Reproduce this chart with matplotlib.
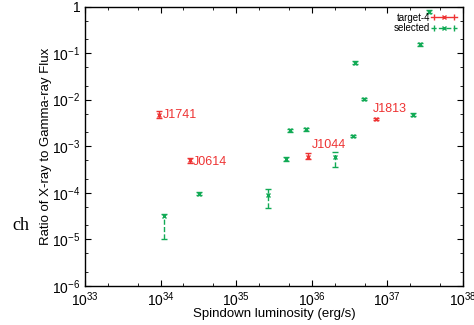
import math
import matplotlib.pyplot as plt
from matplotlib.lines import Line2D
from matplotlib.legend_handler import HandlerLine2D, HandlerTuple
from matplotlib.ticker import LogLocator, FuncFormatter

plt.rcParams['font.family'] = ['Liberation Sans', 'DejaVu Sans']
plt.rcParams['mathtext.fontset'] = 'custom'
plt.rcParams['mathtext.rm'] = 'Liberation Sans'
plt.rcParams['mathtext.it'] = 'Liberation Sans'

# target-4 pulsars
t_names = ["J1741", "J0614", "J1044", "J1813"]
t_lum = [9.6e33, 2.45e34, 8.9e35, 7.1e36]
t_ratio = [4.7e-3, 5.0e-4, 6.0e-4, 3.8e-3]
t_lo = [4.0e-3, 4.4e-4, 5.2e-4, 3.6e-3]
t_hi = [5.6e-3, 5.7e-4, 7.0e-4, 4.0e-3]

# selected pulsars
s_lum = [1.1e34, 3.2e34, 2.6e35, 4.5e35, 5.1e35, 8.3e35, 2.0e36, 3.5e36,
         3.7e36, 4.9e36, 2.2e37, 2.7e37, 3.5e37]
s_ratio = [3.2e-5, 9.6e-5, 9.0e-5, 5.3e-4, 2.2e-3, 2.3e-3, 6.0e-4, 1.66e-3,
           6.2e-2, 1.03e-2, 4.8e-3, 0.155, 0.78]
s_lo = [1.0e-5, 9.0e-5, 4.7e-5, 4.8e-4, 2.0e-3, 2.1e-3, 3.6e-4, 1.55e-3,
        5.8e-2, 9.6e-3, 4.5e-3, 0.145, 0.72]
s_hi = [3.5e-5, 1.05e-4, 1.2e-4, 5.9e-4, 2.4e-3, 2.5e-3, 7.6e-4, 1.78e-3,
        6.6e-2, 1.1e-2, 5.1e-3, 0.165, 0.84]

# label offsets in pixels
t_offsets = [(4, 0), (3, -2), (4, 12), (-3, 10)]

red = "#ee3333"
green = "#11aa55"

fig = plt.figure(figsize=(4.74, 3.25), dpi=100)
ax = fig.add_axes([85 / 474, 1 - 286 / 325, 378 / 474, 279.5 / 325])

t_err = [[r - l for r, l in zip(t_ratio, t_lo)], [h - r for r, h in zip(t_ratio, t_hi)]]
s_err = [[r - l for r, l in zip(s_ratio, s_lo)], [h - r for r, h in zip(s_ratio, s_hi)]]

ax.errorbar(t_lum, t_ratio, yerr=t_err, fmt="x", color=red, ms=3, mew=1,
            elinewidth=1, capsize=2)
eb = ax.errorbar(s_lum, s_ratio, yerr=s_err, fmt="x", color=green, ms=3, mew=1,
                 elinewidth=1, capsize=2)
eb[2][0].set_linestyle("--")

for name, x, y, off in zip(t_names, t_lum, t_ratio, t_offsets):
    ax.annotate(name, (x, y), xytext=off, textcoords="offset pixels",
                color=red, fontsize=9, ha="left", va="center")

ax.set_xscale("log")
ax.set_yscale("log")
ax.set_xlim(1e33, 1e38)
ax.set_ylim(1e-6, 1)

ax.xaxis.set_major_locator(LogLocator(base=10, numticks=10))
ax.yaxis.set_major_locator(LogLocator(base=10, numticks=10))
ax.xaxis.set_minor_locator(LogLocator(base=10, subs=[2, 5], numticks=10))
ax.yaxis.set_minor_locator(LogLocator(base=10, subs=[2, 5], numticks=10))


def fmt(v, pos):
    e = int(round(math.log10(v)))
    if e == 0:
        return "1"
    return r"$\mathregular{10^{%d}}$" % e


ax.xaxis.set_major_formatter(FuncFormatter(fmt))
ax.yaxis.set_major_formatter(FuncFormatter(fmt))
ax.tick_params(which="both", direction="in", top=True, right=True, labelsize=10)
ax.tick_params(which="major", length=4)
ax.tick_params(which="minor", length=2)
for s in ax.spines.values():
    s.set_linewidth(1)

ax.set_xlabel("Spindown luminosity (erg/s)", fontsize=9.5, labelpad=-1)
ax.set_ylabel("Ratio of X-ray to Gamma-ray Flux", fontsize=9.5, labelpad=0)

# legend: horizontal line with caps at the ends and the marker in the middle
t_line = Line2D([], [], color=red, lw=1, marker="x", ms=3)
t_caps = Line2D([], [], color=red, lw=0, marker="|", ms=5)
s_line = Line2D([], [], color=green, lw=1, ls="--", marker="x", ms=3)
s_caps = Line2D([], [], color=green, lw=0, marker="|", ms=4)
ax.legend([(t_line, t_caps), (s_line, s_caps)], ["target-4", "selected"],
          handler_map={tuple: HandlerTuple(ndivide=1),
                       t_caps: HandlerLine2D(numpoints=2),
                       s_caps: HandlerLine2D(numpoints=2)},
          loc="upper right", bbox_to_anchor=(1.0, 1.0), frameon=False,
          fontsize=7, markerfirst=False, handlelength=2.6, labelspacing=0.05,
          borderaxespad=0.25, handletextpad=0.1, numpoints=1)

fig.text(21 / 474, 1 - 226 / 325, "ch", family="Liberation Serif", fontsize=13,
         ha="center", va="center")

fig.savefig("out.png", dpi=100)
